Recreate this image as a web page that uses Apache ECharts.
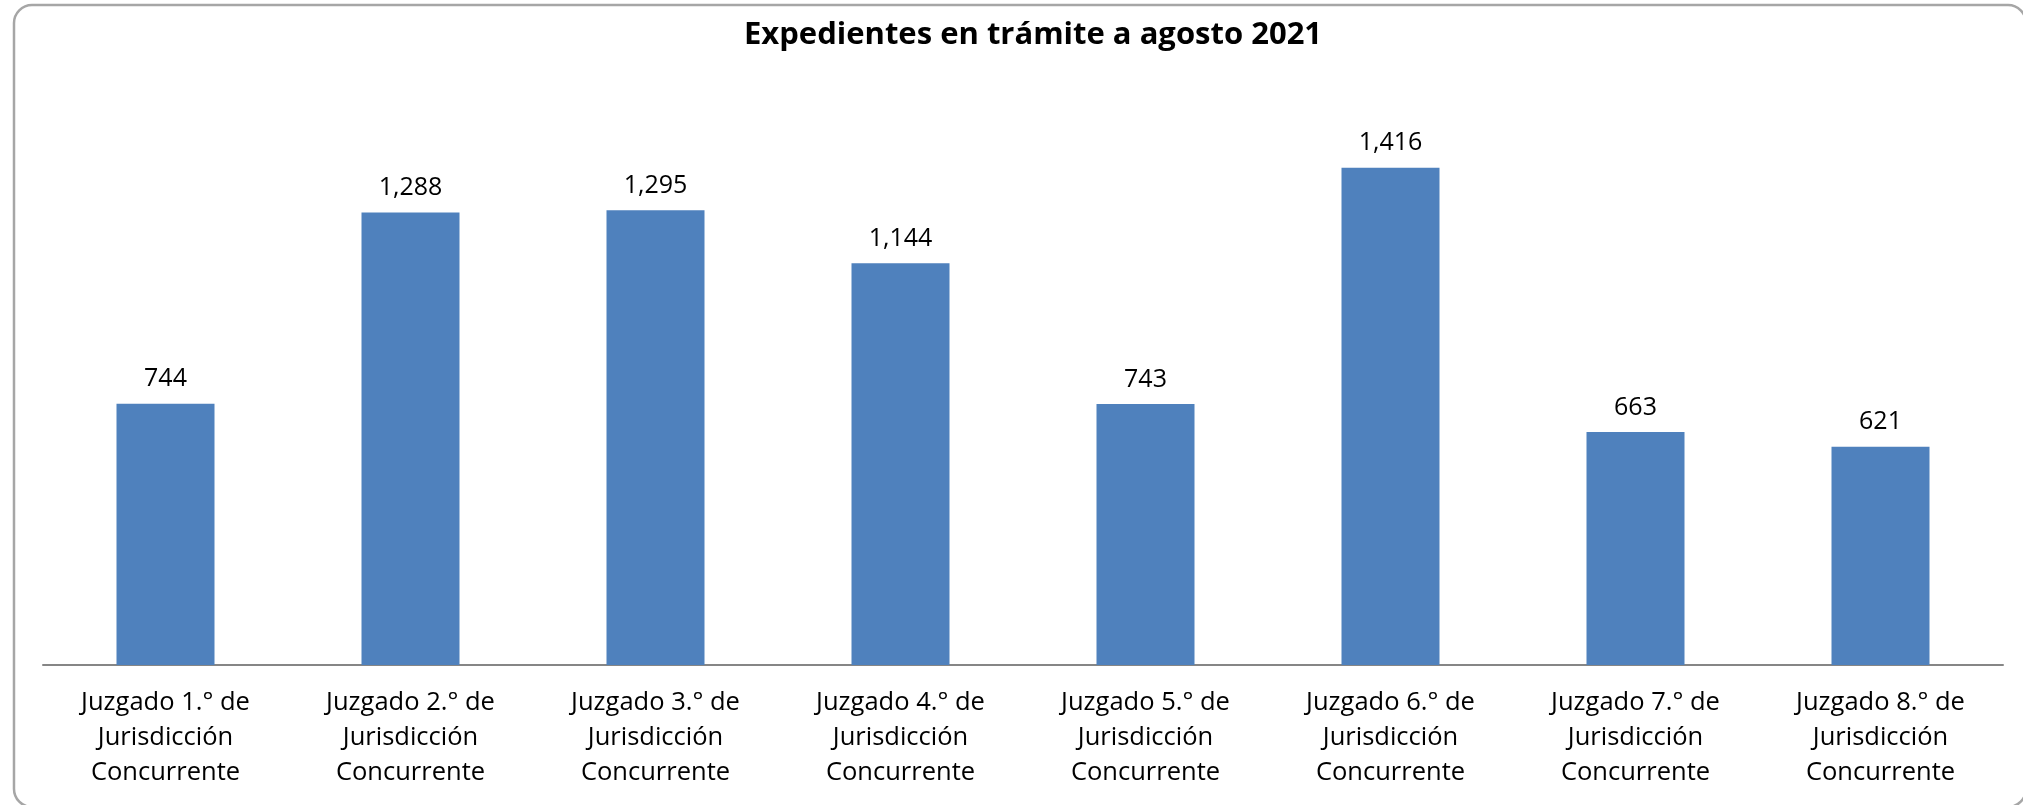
<!DOCTYPE html>
<html>
<head>
<meta charset="utf-8">
<title>Expedientes en trámite a agosto 2021</title>
<script src="https://cdn.jsdelivr.net/npm/echarts@6/dist/echarts.min.js"></script>
<style>
  html, body { margin: 0; padding: 0; background: #ffffff; }
  #chart { width: 2023px; height: 805px; }
</style>
</head>
<body>
<div id="chart"></div>
<script>
const chartTitle = 'Expedientes en trámite a agosto 2021'
const categories = [
  'Juzgado 1.° de\nJurisdicción\nConcurrente',
  'Juzgado 2.° de\nJurisdicción\nConcurrente',
  'Juzgado 3.° de\nJurisdicción\nConcurrente',
  'Juzgado 4.° de\nJurisdicción\nConcurrente',
  'Juzgado 5.° de\nJurisdicción\nConcurrente',
  'Juzgado 6.° de\nJurisdicción\nConcurrente',
  'Juzgado 7.° de\nJurisdicción\nConcurrente',
  'Juzgado 8.° de\nJurisdicción\nConcurrente'
]
const expedientes = [744, 1288, 1295, 1144, 743, 1416, 663, 621]

// the source is a stretched Calibri chart, Open Sans gets closest to its proportions
const fontFamily = '"Open Sans", Lato, sans-serif'

const formatValue = (value) => value.toLocaleString('en-US')

const chart = echarts.init(document.getElementById('chart'), null, { renderer: 'canvas' })

chart.setOption({
  animation: false,
  backgroundColor: '#ffffff',
  title: {
    text: chartTitle,
    left: 1028,
    textAlign: 'center',
    top: 15,
    textStyle: {
      fontFamily,
      fontSize: 31,
      fontWeight: 'bold',
      color: '#000000'
    }
  },
  graphic: [{
    type: 'rect',
    shape: { x: 14, y: 5, width: 2012, height: 802, r: 18 },
    style: { fill: 'none', stroke: '#a6a6a6', lineWidth: 2.5 },
    silent: true
  }],
  grid: {
    left: 43,
    right: 20,
    top: 103,
    bottom: 140
  },
  xAxis: {
    type: 'category',
    data: categories,
    axisLine: { lineStyle: { color: '#868686', width: 2 } },
    axisTick: { show: false },
    axisLabel: {
      interval: 0,
      margin: 20,
      fontFamily,
      fontSize: 25.5,
      lineHeight: 35,
      color: '#000000'
    }
  },
  yAxis: {
    type: 'value',
    min: 0,
    max: 1600,
    show: false,
    splitLine: { show: false }
  },
  series: [{
    type: 'bar',
    data: expedientes,
    barWidth: '40%',
    itemStyle: { color: '#4f81bd' },
    label: {
      show: true,
      position: 'top',
      distance: 12,
      fontFamily,
      fontSize: 25,
      color: '#000000',
      formatter: (params) => formatValue(params.value)
    }
  }]
})
</script>
</body>
</html>
